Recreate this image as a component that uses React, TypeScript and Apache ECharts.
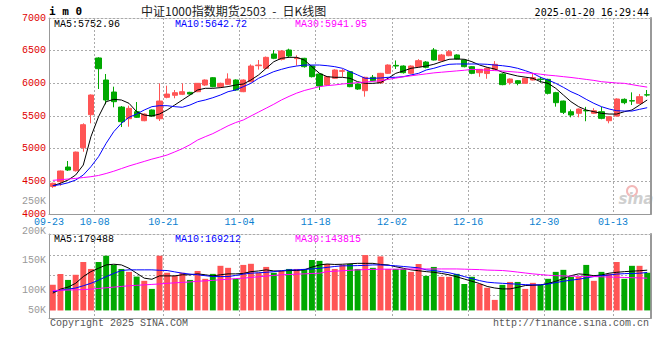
import React, { useEffect, useRef } from "react";
import * as echarts from "echarts";

const dates = [
  "09-23","09-24","09-25","09-26","09-27","09-30","10-08","10-09","10-10","10-11",
  "10-14","10-15","10-16","10-17","10-18","10-21","10-22","10-23","10-24","10-25",
  "10-28","10-29","10-30","10-31","11-01","11-04","11-05","11-06","11-07","11-08",
  "11-11","11-12","11-13","11-14","11-15","11-18","11-19","11-20","11-21","11-22",
  "11-25","11-26","11-27","11-28","11-29","12-02","12-03","12-04","12-05","12-06",
  "12-09","12-10","12-11","12-12","12-13","12-16","12-17","12-18","12-19","12-20",
  "12-23","12-24","12-25","12-26","12-27","12-30","12-31","01-02","01-03","01-06",
  "01-07","01-08","01-09","01-10","01-13","01-14","01-15","01-16","01-17",
];
const dateTicks = ["09-23","10-08","10-21","11-04","11-18","12-02","12-16","12-30","01-13"];

const opens = [
  4420,4494,4719,4662,5014,5520,6388,6051,5867,5637,
  5459,5566,5428,5592,5458,5786,5817,5832,5862,5872,
  5974,6086,5949,5985,6051,5872,6025,6270,6230,6449,
  6368,6510,6378,6383,6265,6143,5974,6077,6184,6178,
  5990,5887,6092,6010,6153,6275,6265,6153,6255,6326,
  6510,6347,6423,6434,6357,6255,6163,6150,6214,6143,
  6010,6040,6000,6051,6065,6061,5857,5729,5566,5541,
  5584,5541,5566,5428,5500,5755,5735,5694,5825,
];
const closes = [
  4470,4658,4673,4948,5367,5821,6224,5745,5719,5413,
  5617,5480,5530,5500,5729,5836,5857,5872,5836,6000,
  6051,5949,6000,6066,5898,6051,6265,6280,6398,6383,
  6495,6418,6388,6255,6102,5959,6102,6204,6194,5949,
  5913,6092,6040,6153,6280,6265,6163,6265,6347,6245,
  6357,6434,6484,6372,6255,6153,6214,6230,6291,5980,
  6066,6000,6077,6087,6058,5847,5704,5556,5515,5607,
  5578,5581,5464,5489,5760,5704,5729,5796,5821,
];
const lows = [
  4400,4433,4658,4650,4953,5388,5913,5679,5633,5331,
  5336,5470,5420,5490,5423,5771,5771,5820,5830,5865,
  5960,5940,5930,5975,5890,5865,6015,6210,6220,6370,
  6350,6400,6270,6240,6090,5898,5960,6070,6100,5940,
  5900,5796,6030,5990,6145,6220,6150,6140,6245,6230,
  6350,6335,6415,6365,6245,6140,6100,6070,6205,5970,
  5980,5970,5995,6045,6010,5830,5643,5530,5480,5480,
  5420,5530,5450,5388,5490,5680,5668,5680,5796,
];
const highs = [
  4480,4665,4811,4955,5388,5830,6400,6143,5949,5653,
  5658,5714,5540,5600,6000,5964,5898,6000,5870,6005,
  6060,6095,6010,6153,6060,6060,6290,6357,6410,6510,
  6510,6530,6430,6390,6270,6150,6110,6215,6220,6190,
  6000,6100,6128,6160,6290,6350,6275,6275,6370,6340,
  6540,6450,6510,6445,6365,6265,6220,6240,6340,6153,
  6075,6050,6085,6153,6100,6070,5870,5735,5600,5615,
  5640,5620,5640,5495,5770,5770,5862,5837,5898,
];
const ma5 = [
  4433,4470,4520,4597,4750,5183,5489,5719,5755,5745,
  5694,5566,5515,5500,5530,5592,5668,5745,5821,5898,
  5924,5924,5934,5950,5974,5990,6051,6128,6230,6331,
  6383,6398,6398,6357,6255,6153,6102,6092,6092,6077,
  6025,6000,6000,6010,6077,6153,6189,6230,6245,6265,
  6291,6331,6368,6373,6368,6331,6280,6245,6219,6170,
  6140,6112,6095,6077,6025,6000,5924,5821,5719,5643,
  5592,5566,5541,5530,5530,5566,5592,5668,5745,
];
const ma10 = [
  4433,4450,4478,4520,4597,4724,4877,5082,5260,5388,
  5480,5530,5592,5643,5658,5658,5643,5633,5668,5719,
  5745,5780,5821,5872,5898,5949,6000,6077,6128,6179,
  6214,6245,6265,6280,6280,6280,6270,6255,6230,6179,
  6128,6077,6077,6082,6092,6092,6102,6128,6153,6204,
  6230,6265,6291,6296,6296,6296,6296,6291,6280,6270,
  6255,6230,6194,6153,6092,6051,6000,5939,5872,5821,
  5755,5694,5643,5607,5581,5576,5576,5602,5627,
];
const ma30 = [
  4515,4525,4535,4545,4558,4571,4590,4620,4655,4695,
  4735,4770,4805,4840,4870,4903,4950,5000,5060,5132,
  5183,5230,5290,5350,5400,5439,5500,5560,5620,5680,
  5745,5800,5850,5890,5920,5949,5965,5975,5990,6000,
  6010,6020,6030,6040,6060,6080,6100,6115,6130,6145,
  6160,6170,6180,6190,6200,6214,6210,6200,6195,6189,
  6180,6170,6160,6153,6140,6125,6115,6102,6090,6075,
  6060,6045,6025,6015,6005,6000,5980,5960,5942,
];
const volumes = [
  114000,163000,136000,159000,216000,185000,216000,244000,203000,185000,
  172000,151000,132000,96000,244000,168000,154000,168000,136000,176000,
  141000,163000,199000,190000,141000,203000,208000,168000,194000,168000,
  176000,185000,185000,185000,225000,221000,207000,185000,203000,207000,
  185000,247000,190000,241000,185000,185000,185000,172000,207000,154000,
  194000,150000,150000,163000,118000,150000,118000,101000,47000,114000,
  127000,127000,96000,123000,114000,141000,172000,181000,150000,150000,
  203000,132000,172000,163000,216000,141000,199000,199000,168000,
];
const volMa5 = [
  77000,95000,104000,121000,151000,173000,188000,203000,206000,203000,
  188000,166000,144000,139000,154000,154000,154000,159000,159000,163000,
  159000,154000,159000,163000,163000,165000,173000,176000,181000,176000,
  176000,178000,178000,181000,193000,203000,207000,205000,206000,208000,
  210000,210000,210000,205000,203000,195000,188000,181000,177000,173000,
  170000,165000,159000,150000,140000,130000,120000,107000,100000,96000,
  96000,103000,111000,112000,114000,120000,130000,142000,155000,163000,
  160000,155000,158000,166000,170000,173000,175000,177000,179488,
];
const volMa10 = [
  84000,90000,95000,100000,110000,121000,135000,151000,165000,178000,
  181000,181000,181000,181000,179000,178000,172000,166000,162000,159000,
  155000,151000,151000,151000,156000,162000,166000,168000,170000,173000,
  177000,181000,181000,183000,185000,188000,192000,196000,199000,199000,
  200000,201000,203000,203000,201000,199000,196000,193000,190000,181000,
  178000,173000,168000,160000,151000,142000,133000,126000,123000,121000,
  119000,117000,115000,114000,114000,118000,124000,130000,135000,139000,
  145000,151000,155000,158000,162000,164000,165000,166000,169212,
];
const volMa30 = [
  89000,90000,91000,92000,93000,95000,98000,101000,104000,107000,
  110000,112000,114000,116000,118000,121000,123000,125000,127000,130000,
  132000,134000,137000,139000,142000,144000,147000,150000,153000,156000,
  159000,160000,162000,163000,165000,166000,173000,175000,177000,179000,
  181000,182000,183000,184000,184000,184000,184000,185000,185000,185000,
  185000,185000,185000,185000,184000,183000,182000,180000,179000,178000,
  175000,171000,167000,163000,160000,157000,155000,154000,153000,152000,
  151000,151000,150000,149000,148000,147000,146000,145000,143815,
];
const volTickLabels = ["50K","","100K","","","150K","","","200K","","","250K"];

const title = "中证1000指数期货2503\u2002-\u2002日K线图";
const symbol = "i m 0";
const stamp = "2025-01-20 16:29:44";
const maTexts = ["MA5:5752.96", "MA10:5642.72", "MA30:5941.95"];
const volMaTexts = ["MA5:179488", "MA10:169212", "MA30:143815"];

const UP = "#ff5555";
const DOWN = "#00a800";
const MONO = "'Liberation Mono', 'DejaVu Sans Mono', monospace";

export default function App() {
  const ref = useRef<HTMLDivElement>(null);
  useEffect(() => {
    document.body.style.margin = "0";
    const chart = echarts.init(ref.current!, null, { renderer: "svg" });
    const tickSet = new Set(dateTicks);
    const isTick = (i: number) => tickSet.has(dates[i]);
    const candle = dates.map((_, i) => [opens[i], closes[i], lows[i], highs[i]]);
    const vol = volumes.map((v, i) => ({
      value: v,
      itemStyle: { color: closes[i] >= opens[i] ? UP : DOWN },
    }));
    const dotted = { color: "#aaa", type: [2, 2] as any, width: 1 };
    const solid = { color: "#999", width: 1 };
    const off = { show: false };
    const line = (name: string, data: number[], color: string, x: number, y: number) => ({
      name, type: "line", data, xAxisIndex: x, yAxisIndex: y, symbol: "none",
      lineStyle: { color, width: 1 }, silent: true,
    });
    const txt = (text: string, x: number, y: number, fill: string, extra: any = {}) => ({
      type: "text", x, y,
      style: { text, fill, font: `10px ${MONO}`, textVerticalAlign: "middle", ...extra },
    });
    const frameX = (grid: number, position: string, style: any) => ({
      type: "category", data: dates, gridIndex: grid, position, boundaryGap: true,
      axisLine: { show: true, onZero: false, lineStyle: style },
      axisTick: off, axisLabel: off, splitLine: off,
    });
    const frameY = (grid: number, position: string, style: any) => ({
      type: "value", gridIndex: grid, position, min: 0, max: 1,
      axisLine: { show: true, onZero: false, lineStyle: style },
      axisTick: off, axisLabel: off, splitLine: off,
    });
    chart.setOption({
      animation: false,
      backgroundColor: "#fff",
      grid: [
        { left: 49, right: 9, top: 18, height: 196 },
        { left: 49, right: 9, top: 234, height: 84 },
        { left: 49, width: 1, top: 201.5, height: 108.5 },
        { left: 49, right: 9, top: 255.7, height: 40 },
      ],
      xAxis: [
        {
          type: "category", data: dates, gridIndex: 0, boundaryGap: true,
          axisLine: { show: true, onZero: false, lineStyle: solid }, axisTick: off,
          axisLabel: {
            interval: (i: number) => isTick(i), color: "#0a7fd0", fontFamily: MONO,
            fontSize: 10, lineHeight: 8, margin: 4, padding: [0, 7.6, 0, 0],
          },
          splitLine: { show: true, interval: (i: number) => isTick(i) && i > 0, lineStyle: dotted },
        },
        {
          type: "category", data: dates, gridIndex: 1, boundaryGap: true,
          axisLine: { show: true, onZero: false, lineStyle: solid }, axisTick: off, axisLabel: off,
          splitLine: { show: true, interval: (i: number) => isTick(i) && i > 0, lineStyle: dotted },
        },
        { type: "value", gridIndex: 2, show: false },
        { type: "value", gridIndex: 3, show: false },
        frameX(0, "top", dotted),
        frameX(1, "top", dotted),
      ],
      yAxis: [
        {
          type: "value", gridIndex: 0, min: 4000, max: 7000, interval: 500,
          axisLine: { show: true, onZero: false, lineStyle: solid }, axisTick: off,
          axisLabel: {
            color: "#e00000", fontFamily: MONO, fontSize: 10, lineHeight: 8, margin: 3,
            padding: [0, 0, 3, 0], formatter: (v: number) => String(v),
          },
          splitLine: { show: true, lineStyle: dotted },
        },
        {
          type: "value", gridIndex: 1, min: -33800, max: 340900,
          axisLine: { show: true, onZero: false, lineStyle: solid }, axisTick: off, axisLabel: off,
          splitLine: off,
        },
        {
          type: "category", gridIndex: 2, data: volTickLabels, boundaryGap: false,
          axisLine: off, axisTick: off,
          axisLabel: { interval: 0, color: "#999", fontFamily: MONO, fontSize: 10, lineHeight: 8, margin: 3 },
          splitLine: off,
        },
        {
          type: "value", gridIndex: 3, min: 0, max: 2, interval: 1,
          axisLine: off, axisTick: off, axisLabel: off,
          splitLine: { show: true, lineStyle: dotted },
        },
        frameY(0, "right", { color: "#999", width: 2 }),
        frameY(1, "right", { color: "#999", width: 2 }),
      ],
      series: [
        {
          name: "K", type: "candlestick", data: candle, xAxisIndex: 0, yAxisIndex: 0,
          barWidth: "75%",
          itemStyle: { color: UP, color0: DOWN, borderColor: UP, borderColor0: DOWN, borderWidth: 1 },
        },
        line("MA5", ma5, "#000000", 0, 0),
        line("MA10", ma10, "#0000ff", 0, 0),
        line("MA30", ma30, "#ff00ff", 0, 0),
        { name: "VOL", type: "bar", data: vol, xAxisIndex: 1, yAxisIndex: 1, barWidth: "78%" },
        line("VMA5", volMa5, "#000000", 1, 1),
        line("VMA10", volMa10, "#0000ff", 1, 1),
        line("VMA30", volMa30, "#ff00ff", 1, 1),
      ],
      graphic: [
        { type: "text", x: 49, y: 11, style: { text: symbol, fill: "#000", font: `bold 11px 'DejaVu Sans Mono', monospace`, textVerticalAlign: "middle" } },
        { type: "text", x: 141, y: 10, style: { text: title, fill: "#222", font: `12px 'Noto Sans CJK SC', sans-serif`, textVerticalAlign: "middle" } },
        txt(stamp, 649, 12, "#000", { textAlign: "right", font: `10px 'DejaVu Sans Mono', monospace` }),
        txt(maTexts[0], 54, 24, "#000"),
        txt(maTexts[1], 175, 24, "#0000ff"),
        txt(maTexts[2], 295, 24, "#ff00ff"),
        txt(volMaTexts[0], 54, 239, "#000"),
        txt(volMaTexts[1], 175, 239, "#0000ff"),
        txt(volMaTexts[2], 295, 239, "#ff00ff"),
        txt("Copyright 2025 SINA.COM", 50, 323, "#555"),
        txt("http://finance.sina.com.cn", 649, 323, "#555", { textAlign: "right" }),
        { type: "circle", shape: { cx: 632, cy: 191, r: 5 }, style: { fill: "none", stroke: "#f3b8b8", lineWidth: 2 } },
        { type: "text", x: 636, y: 199, style: { text: "sina", fill: "#cfcfcf", font: "italic bold 15px 'DejaVu Sans', sans-serif", textAlign: "center", textVerticalAlign: "middle" } },
      ],
    });
    return () => chart.dispose();
  }, []);
  return <div ref={ref} style={{ width: 660, height: 360 }} />;
}
